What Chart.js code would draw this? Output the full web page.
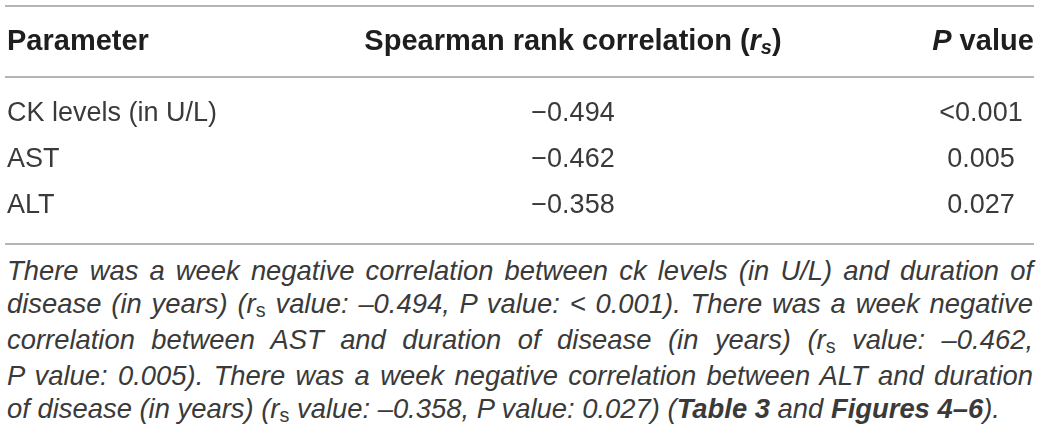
<!DOCTYPE html>
<html>
<head>
<meta charset="utf-8">
<script src="https://cdn.jsdelivr.net/npm/chart.js@4.4.1/dist/chart.umd.min.js"></script>
<style>
  html, body { margin: 0; padding: 0; background: #ffffff; }
  #wrap { position: absolute; left: 0; top: 0; width: 1043px; height: 250px; }
  #cap { position: absolute; left: 7px; top: 254px; width: 1026px;
         font-family: "Liberation Sans", Arial, sans-serif; font-style: italic;
         font-size: 27.4px; line-height: 33px; color: #3a3a3a; }
  #cap .ln { text-align: justify; text-align-last: justify; }
  #cap .ln.last { text-align: left; text-align-last: left; }
  #cap .sub { font-style: normal; font-size: 0.72em; position: relative; top: 0.22em; }
</style>
</head>
<body>
<div id="wrap"><canvas id="c"></canvas></div>
<div id="cap"></div>
<script>
// ---- data ----
const parameters = ['CK levels (in U/L)', 'AST', 'ALT'];
const rsValues = [-0.494, -0.462, -0.358];
const pValues = ['<0.001', '0.005', '0.027'];
const columnKeys = ['rs', 'p'];
const headerParameter = 'Parameter';
const headerSpearman = 'Spearman rank correlation';
const headerP = 'value';

const FONT = '"Liberation Sans", Arial, sans-serif';
const fmtTable = v => (v < 0 ? '\u2212' : '') + Math.abs(v).toFixed(3);
const fmtCap = v => (v < 0 ? '\u2013' : '') + Math.abs(v).toFixed(3);

// ---- caption ----
const rsTag = 'r<span class="sub">s</span>';
const capLines = [
  'There was a week negative correlation between ck levels (in U/L) and duration of',
  'disease (in years) (' + rsTag + ' value: ' + fmtCap(rsValues[0]) + ', P value: ' + pValues[0].replace('<', '&lt; ') + '). There was a week negative',
  'correlation between AST and duration of disease (in years) (' + rsTag + ' value: ' + fmtCap(rsValues[1]) + ',',
  'P value: ' + pValues[1] + '). There was a week negative correlation between ALT and duration',
  'of disease (in years) (' + rsTag + ' value: ' + fmtCap(rsValues[2]) + ', P value: ' + pValues[2] + ') (<b>Table 3</b> and <b>Figures 4\u20136</b>).'
];
document.getElementById('cap').innerHTML = capLines.map((l, i) =>
  '<div class="ln' + (i === capLines.length - 1 ? ' last' : '') + '">' + l + '</div>').join('');

// ---- helpers ----
function drawRich(ctx, parts, x, y, align) {
  let total = 0;
  parts.forEach(p => { ctx.font = p.font; p.w = ctx.measureText(p.t).width; total += p.w; });
  let cx = align === 'center' ? x - total / 2 : (align === 'right' ? x - total : x);
  parts.forEach(p => {
    ctx.font = p.font;
    ctx.textAlign = 'left';
    ctx.textBaseline = 'middle';
    ctx.fillText(p.t, cx, y + (p.dy || 0));
    cx += p.w;
  });
}

const tablePlugin = {
  id: 'tablePlugin',
  afterDraw(chart) {
    const ctx = chart.ctx;
    const area = chart.chartArea;
    const xs = chart.scales.x, ys = chart.scales.y;
    ctx.save();
    // rules
    ctx.strokeStyle = '#9c9c9c';
    ctx.lineWidth = 1.6;
    [6, area.top - 14, area.bottom + 15].forEach(yy => {
      ctx.beginPath(); ctx.moveTo(5, yy); ctx.lineTo(1034, yy); ctx.stroke();
    });
    // headers
    const hy = 42;
    const B = 'bold 29px ' + FONT, BI = 'italic bold 29px ' + FONT, BIs = 'italic bold 20px ' + FONT;
    ctx.fillStyle = '#1e1e1e';
    drawRich(ctx, [{ t: headerParameter, font: B }], ys.left, hy, 'left');
    drawRich(ctx, [
      { t: headerSpearman + ' (', font: B },
      { t: 'r', font: BI },
      { t: 's', font: BIs, dy: 6 },
      { t: ')', font: B }
    ], xs.getPixelForValue(0), hy, 'center');
    drawRich(ctx, [
      { t: 'P', font: BI },
      { t: ' ' + headerP, font: B }
    ], xs.getPixelForValue(1) + 2, hy, 'center');
    // cells
    ctx.fillStyle = '#3a3a3a';
    ctx.font = '27px ' + FONT;
    ctx.textAlign = 'center';
    ctx.textBaseline = 'middle';
    chart.data.datasets.forEach((ds, di) => {
      const meta = chart.getDatasetMeta(di);
      meta.data.forEach((el, j) => {
        ctx.fillText(ds.data[j].t, el.x, el.y);
      });
    });
    ctx.restore();
  }
};

new Chart(document.getElementById('c'), {
  type: 'line',
  data: {
    datasets: [
      { label: 'rs', data: parameters.map((p, i) => ({ x: 'rs', y: p, t: fmtTable(rsValues[i]) })),
        showLine: false, pointRadius: 0, pointHoverRadius: 0 },
      { label: 'p', data: parameters.map((p, i) => ({ x: 'p', y: p, t: pValues[i] })),
        showLine: false, pointRadius: 0, pointHoverRadius: 0 }
    ]
  },
  options: {
    responsive: true,
    maintainAspectRatio: false,
    animation: false,
    events: [],
    layout: { padding: { left: 7, right: 62, top: 91, bottom: 21 } },
    plugins: { legend: { display: false }, tooltip: { enabled: false }, title: { display: false } },
    scales: {
      x: { type: 'category', labels: columnKeys, offset: false, display: false },
      y: {
        type: 'category', labels: parameters, offset: true,
        grid: { display: false, drawTicks: false }, border: { display: false },
        ticks: { color: '#3a3a3a', font: { family: FONT, size: 27 }, crossAlign: 'far', padding: 0 },
        afterFit(scale) { scale.width = 566; }
      }
    }
  },
  plugins: [tablePlugin]
});
</script>
</body>
</html>
